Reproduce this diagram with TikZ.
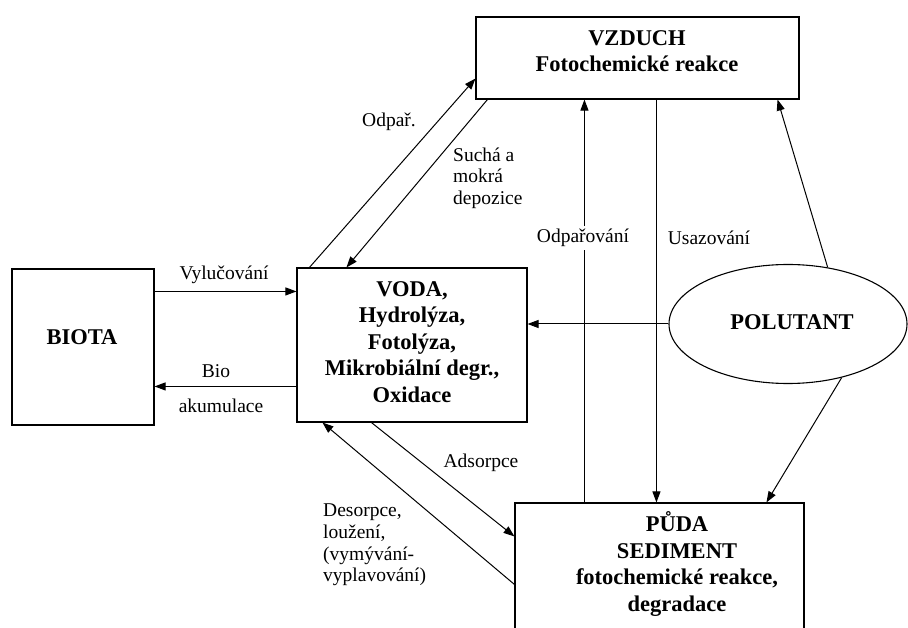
\documentclass[tikz,border=0pt]{standalone}
\usepackage{fontspec}
\setmainfont{Liberation Serif}
\usetikzlibrary{arrows.meta,shapes.geometric,calc}
\begin{document}
\begin{tikzpicture}[x=1pt,y=-1pt,
  box/.style={draw,line width=1.1pt,inner sep=0pt,rectangle},
  conn/.style={line width=1pt,-{Triangle[length=11pt,width=8pt]}},
  lbl/.style={inner sep=0pt,font=\fontsize{19.5}{21.7}\selectfont},
  btxt/.style={inner sep=0pt,align=center,font=\fontsize{22.5}{26.5}\selectfont\bfseries}]
\useasboundingbox (0,0) rectangle (908,628);
% boxes
\node[box,minimum width=323pt,minimum height=82pt] (vzduch) at (637.5,58) {};
\node[box,minimum width=230pt,minimum height=154pt] (voda) at (412,345) {};
\node[box,minimum width=142pt,minimum height=156pt] (biota) at (83,347) {};
\node[box,minimum width=289pt,minimum height=160pt] (puda) at (659.5,583) {};
\node[draw,ellipse,line width=1.1pt,minimum width=238pt,minimum height=119pt,inner sep=0pt] (pol) at (788,324) {};
% box texts
\node[btxt] (vzduchT) at (637,51) {VZDUCH\\Fotochemické reakce};
\node[btxt] (vodaT) at (412,342) {VODA,\\Hydrolýza,\\Fotolýza,\\Mikrobiální degr.,\\Oxidace};
\node[btxt] (biotaT) at (82,337) {BIOTA};
\node[btxt] (pudaT) at (677,564) {PŮDA\\SEDIMENT\\fotochemické reakce,\\degradace};
\node[btxt] (polT) at (792,322) {POLUTANT};
% connectors
\draw[conn] ($(voda.north west)+(13,0)$) -- ($(vzduch.south west)+(0,-21)$);
\draw[conn] ($(vzduch.south west)+(12,0)$) -- ($(voda.north west)+(50,0)$);
\draw[conn] ($(puda.north west)+(70,0)$) -- ($(vzduch.south west)+(109,0)$);
\draw[conn] ($(vzduch.south west)+(181,0)$) -- ($(puda.north west)+(142,0)$);
\draw[conn] (pol.west) -- (pol.west -| voda.east);
\draw[conn] (pol.55) -- ($(vzduch.south east)+(-22,0)$);
\draw[conn] (pol.-45) -- ($(puda.north west)+(252,0)$);
\draw[conn] ($(biota.north east)+(0,23)$) -- ($(voda.north west)+(0,24)$);
\draw[conn] ($(voda.north west)+(0,119)$) -- ($(biota.north east)+(0,118)$);
\draw[conn] ($(voda.south west)+(75,0)$) -- ($(puda.north west)+(0,34)$);
\draw[conn] ($(puda.north west)+(0,82)$) -- ($(voda.south west)+(26,0)$);
% labels
\node[lbl] (odp1) at (389,122) {Odpař.};
\node[lbl,align=left,anchor=west] (such) at (453,178) {Suchá a\\mokrá\\depozice};
\node[lbl,fill=white,inner sep=3pt] (odp2) at (583,238) {Odpařování};
\node[lbl] (usaz) at (709,238) {Usazování};
\node[lbl] (vyl) at (224,275) {Vylučování};
\node[lbl] (bio) at (216,371) {Bio};
\node[lbl] (akum) at (221,406) {akumulace};
\node[lbl] (ads) at (481,463) {Adsorpce};
\node[lbl,align=left,anchor=west] (desorp) at (323,545) {Desorpce,\\loužení,\\(vymývání-\\vyplavování)};
\end{tikzpicture}
\end{document}
